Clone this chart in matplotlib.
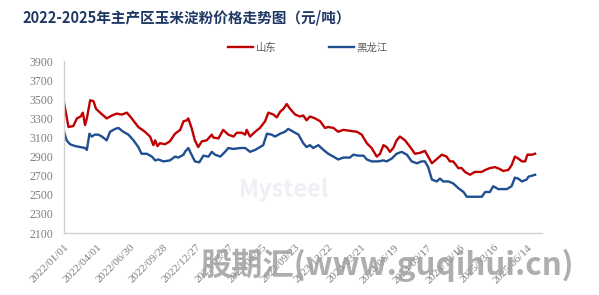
"""
plot.py — 2022-2025 main-region corn starch price trend (yuan/tonne).

Two series: Shandong (red) and Heilongjiang (blue), read off the reference chart.
"""

import matplotlib
matplotlib.use("Agg")
import matplotlib.dates as mdates
import matplotlib.pyplot as plt
import pandas as pd

plt.rcParams["font.family"] = ["Noto Sans CJK SC", "DejaVu Sans"]

# ── Data ──────────────────────────────────────────────────────────────────────

SD_DATES = [
    "2022-01-01", "2022-01-13", "2022-01-26", "2022-02-05", "2022-02-15", "2022-02-21",
    "2022-02-27", "2022-03-04", "2022-03-13", "2022-03-22", "2022-03-29", "2022-04-09",
    "2022-04-27", "2022-05-11", "2022-05-24", "2022-06-07", "2022-06-21", "2022-07-04",
    "2022-07-22", "2022-08-09", "2022-08-23", "2022-09-01", "2022-09-06", "2022-09-12",
    "2022-09-19", "2022-10-03", "2022-10-16", "2022-10-30", "2022-11-13", "2022-11-22",
    "2022-12-01", "2022-12-05", "2022-12-14", "2022-12-23", "2023-01-01", "2023-01-11",
    "2023-01-24", "2023-02-07", "2023-02-11", "2023-02-25", "2023-03-10", "2023-03-24",
    "2023-04-07", "2023-04-16", "2023-04-30", "2023-05-09", "2023-05-13", "2023-05-22",
    "2023-06-05", "2023-06-18", "2023-07-02", "2023-07-11", "2023-07-25", "2023-08-03",
    "2023-08-12", "2023-08-21", "2023-08-30", "2023-09-08", "2023-09-22", "2023-10-05",
    "2023-10-14", "2023-10-23", "2023-11-01", "2023-11-15", "2023-11-29", "2023-12-12",
    "2023-12-21", "2024-01-04", "2024-01-17", "2024-01-31", "2024-02-18", "2024-03-08",
    "2024-03-21", "2024-04-04", "2024-04-17", "2024-05-01", "2024-05-10", "2024-05-19",
    "2024-05-28", "2024-06-06", "2024-06-15", "2024-06-24", "2024-07-03", "2024-07-17",
    "2024-07-31", "2024-08-13", "2024-08-27", "2024-09-09", "2024-09-18", "2024-09-28",
    "2024-10-07", "2024-10-25", "2024-11-07", "2024-11-16", "2024-11-25", "2024-12-09",
    "2024-12-18", "2024-12-27", "2025-01-10", "2025-01-23", "2025-02-11", "2025-02-20",
    "2025-03-05", "2025-03-19", "2025-04-01", "2025-04-10", "2025-04-24", "2025-05-03",
    "2025-05-12", "2025-05-21", "2025-05-31", "2025-06-09", "2025-06-15", "2025-06-27",
    "2025-07-06",
]
SD_PRICE = [
    3460, 3210, 3220, 3300, 3320, 3360,
    3230, 3300, 3490, 3480, 3400, 3360,
    3300, 3330, 3350, 3340, 3360, 3300,
    3210, 3160, 3110, 3020, 3070, 3010,
    3040, 3030, 3060, 3140, 3180, 3270,
    3280, 3300, 3200, 3070, 3000, 3060,
    3070, 3130, 3100, 3090, 3180, 3130,
    3110, 3150, 3150, 3130, 3180, 3110,
    3160, 3200, 3270, 3360, 3340, 3310,
    3370, 3400, 3450, 3400, 3340, 3320,
    3330, 3280, 3320, 3300, 3270, 3200,
    3210, 3200, 3160, 3180, 3170, 3160,
    3130, 3040, 2990, 2900, 2930, 3020,
    3000, 2950, 2990, 3070, 3110, 3070,
    3000, 2930, 2940, 2960, 2900, 2830,
    2860, 2920, 2900, 2850, 2850, 2780,
    2780, 2740, 2710, 2740, 2740, 2760,
    2780, 2790, 2770, 2750, 2760, 2810,
    2900, 2880, 2850, 2850, 2920, 2920,
    2930,
]

HLJ_DATES = [
    "2022-01-01", "2022-01-08", "2022-01-17", "2022-01-31", "2022-02-14", "2022-02-27",
    "2022-03-04", "2022-03-11", "2022-03-17", "2022-03-26", "2022-04-04", "2022-04-14",
    "2022-04-27", "2022-05-06", "2022-05-20", "2022-05-29", "2022-06-11", "2022-06-25",
    "2022-07-09", "2022-07-22", "2022-07-31", "2022-08-14", "2022-08-28", "2022-09-06",
    "2022-09-15", "2022-09-28", "2022-10-16", "2022-10-30", "2022-11-08", "2022-11-22",
    "2022-11-26", "2022-12-05", "2022-12-14", "2022-12-23", "2023-01-04", "2023-01-15",
    "2023-01-29", "2023-02-07", "2023-02-16", "2023-03-02", "2023-03-15", "2023-03-24",
    "2023-04-07", "2023-04-25", "2023-05-09", "2023-05-22", "2023-06-05", "2023-06-18",
    "2023-06-27", "2023-07-07", "2023-07-20", "2023-07-29", "2023-08-12", "2023-08-25",
    "2023-09-03", "2023-09-17", "2023-10-01", "2023-10-14", "2023-10-23", "2023-11-01",
    "2023-11-10", "2023-11-24", "2023-12-08", "2023-12-21", "2024-01-04", "2024-01-17",
    "2024-01-31", "2024-02-18", "2024-02-27", "2024-03-12", "2024-03-26", "2024-04-04",
    "2024-04-17", "2024-05-05", "2024-05-19", "2024-05-28", "2024-06-11", "2024-06-24",
    "2024-07-08", "2024-07-22", "2024-08-04", "2024-08-18", "2024-08-31", "2024-09-09",
    "2024-09-18", "2024-09-28", "2024-10-11", "2024-10-20", "2024-10-29", "2024-11-12",
    "2024-11-25", "2024-12-09", "2024-12-23", "2025-01-01", "2025-02-11", "2025-02-20",
    "2025-03-05", "2025-03-14", "2025-03-28", "2025-04-20", "2025-05-03", "2025-05-12",
    "2025-05-21", "2025-05-31", "2025-06-13", "2025-06-18", "2025-06-27", "2025-07-06",
]
HLJ_PRICE = [
    3160, 3070, 3030, 3010, 3000, 2990,
    2970, 3140, 3110, 3130, 3130, 3110,
    3070, 3160, 3190, 3200, 3160, 3130,
    3070, 3000, 2930, 2930, 2900, 2860,
    2870, 2850, 2860, 2900, 2890, 2920,
    2950, 2990, 2920, 2850, 2840, 2910,
    2900, 2950, 2920, 2900, 2950, 2990,
    2980, 2990, 2990, 2950, 2970, 3000,
    3020, 3140, 3130, 3110, 3140, 3160,
    3190, 3160, 3130, 3040, 3000, 3020,
    2990, 3020, 2970, 2930, 2900, 2870,
    2890, 2890, 2920, 2910, 2910, 2870,
    2850, 2850, 2860, 2850, 2880, 2930,
    2950, 2920, 2850, 2830, 2850, 2850,
    2790, 2660, 2640, 2670, 2640, 2640,
    2620, 2570, 2530, 2480, 2480, 2530,
    2530, 2590, 2560, 2560, 2590, 2680,
    2670, 2640, 2660, 2690, 2700, 2710,
]

SERIES_NAMES = ["山东", "黑龙江"]
Y_TICKS = list(range(2100, 4000, 200))
X_TICK_START = "2022-01-01"
X_TICK_STEP_DAYS = 90
N_X_TICKS = 15

TITLE = "2022-2025年主产区玉米淀粉价格走势图（元/吨）"

# ── Plot ──────────────────────────────────────────────────────────────────────

fig = plt.figure(figsize=(5.99, 2.95), dpi=100)
ax = fig.add_axes([0.107, 0.21, 0.798, 0.583])

sd = pd.Series(SD_PRICE, index=pd.to_datetime(SD_DATES))
hlj = pd.Series(HLJ_PRICE, index=pd.to_datetime(HLJ_DATES))

ax.plot(sd.index, sd.values, color="#C00000", lw=1.7, label=SERIES_NAMES[0])
ax.plot(hlj.index, hlj.values, color="#1F4E91", lw=1.7, label=SERIES_NAMES[1])

ax.set_ylim(2100, 3900)
ax.set_yticks(Y_TICKS)
ax.set_xlim(pd.Timestamp("2022-01-01"), pd.Timestamp("2025-07-25"))

xticks = pd.date_range(X_TICK_START, periods=N_X_TICKS, freq=f"{X_TICK_STEP_DAYS}D")
ax.set_xticks(xticks)
ax.xaxis.set_major_formatter(mdates.DateFormatter("%Y/%m/%d"))

for lbl in ax.get_yticklabels():
    lbl.set_family("Liberation Serif")
for lbl in ax.get_xticklabels():
    lbl.set_family("Liberation Serif")
    lbl.set_rotation(45)
    lbl.set_ha("right")
    lbl.set_va("top")
    lbl.set_rotation_mode("anchor")

ax.tick_params(axis="y", length=0, pad=8, labelsize=8.5, labelcolor="#7F7F7F")
ax.tick_params(axis="x", length=0, pad=7, labelsize=8, labelcolor="#7F7F7F")

for side in ("top", "right"):
    ax.spines[side].set_visible(False)
for side in ("left", "bottom"):
    ax.spines[side].set_color("#D0D0D0")
    ax.spines[side].set_linewidth(1.0)

ax.legend(
    loc="lower center", bbox_to_anchor=(0.51, 1.0), ncol=2, frameon=False,
    fontsize=7.5, labelcolor="#595959", handlelength=2.4, handletextpad=0.3,
    columnspacing=5.0, borderaxespad=0.4,
)

fig.text(0.037, 0.94, TITLE, fontsize=10.5, fontweight="bold", color="#1F3864",
         ha="left", va="center")

# faint watermarks present on the source picture
ax.text(0.46, 0.25, "Mysteel", transform=ax.transAxes, fontsize=17, fontweight="bold",
        color="#EEF0F5", ha="center", va="center", zorder=0)
fig.text(0.646, 0.10, "股期汇(www.guqihui.cn)", fontsize=22.5, fontweight="bold",
         color="#A0A0A0", alpha=0.85, ha="center", va="center", style="italic")

fig.savefig("out.png", dpi=100)
